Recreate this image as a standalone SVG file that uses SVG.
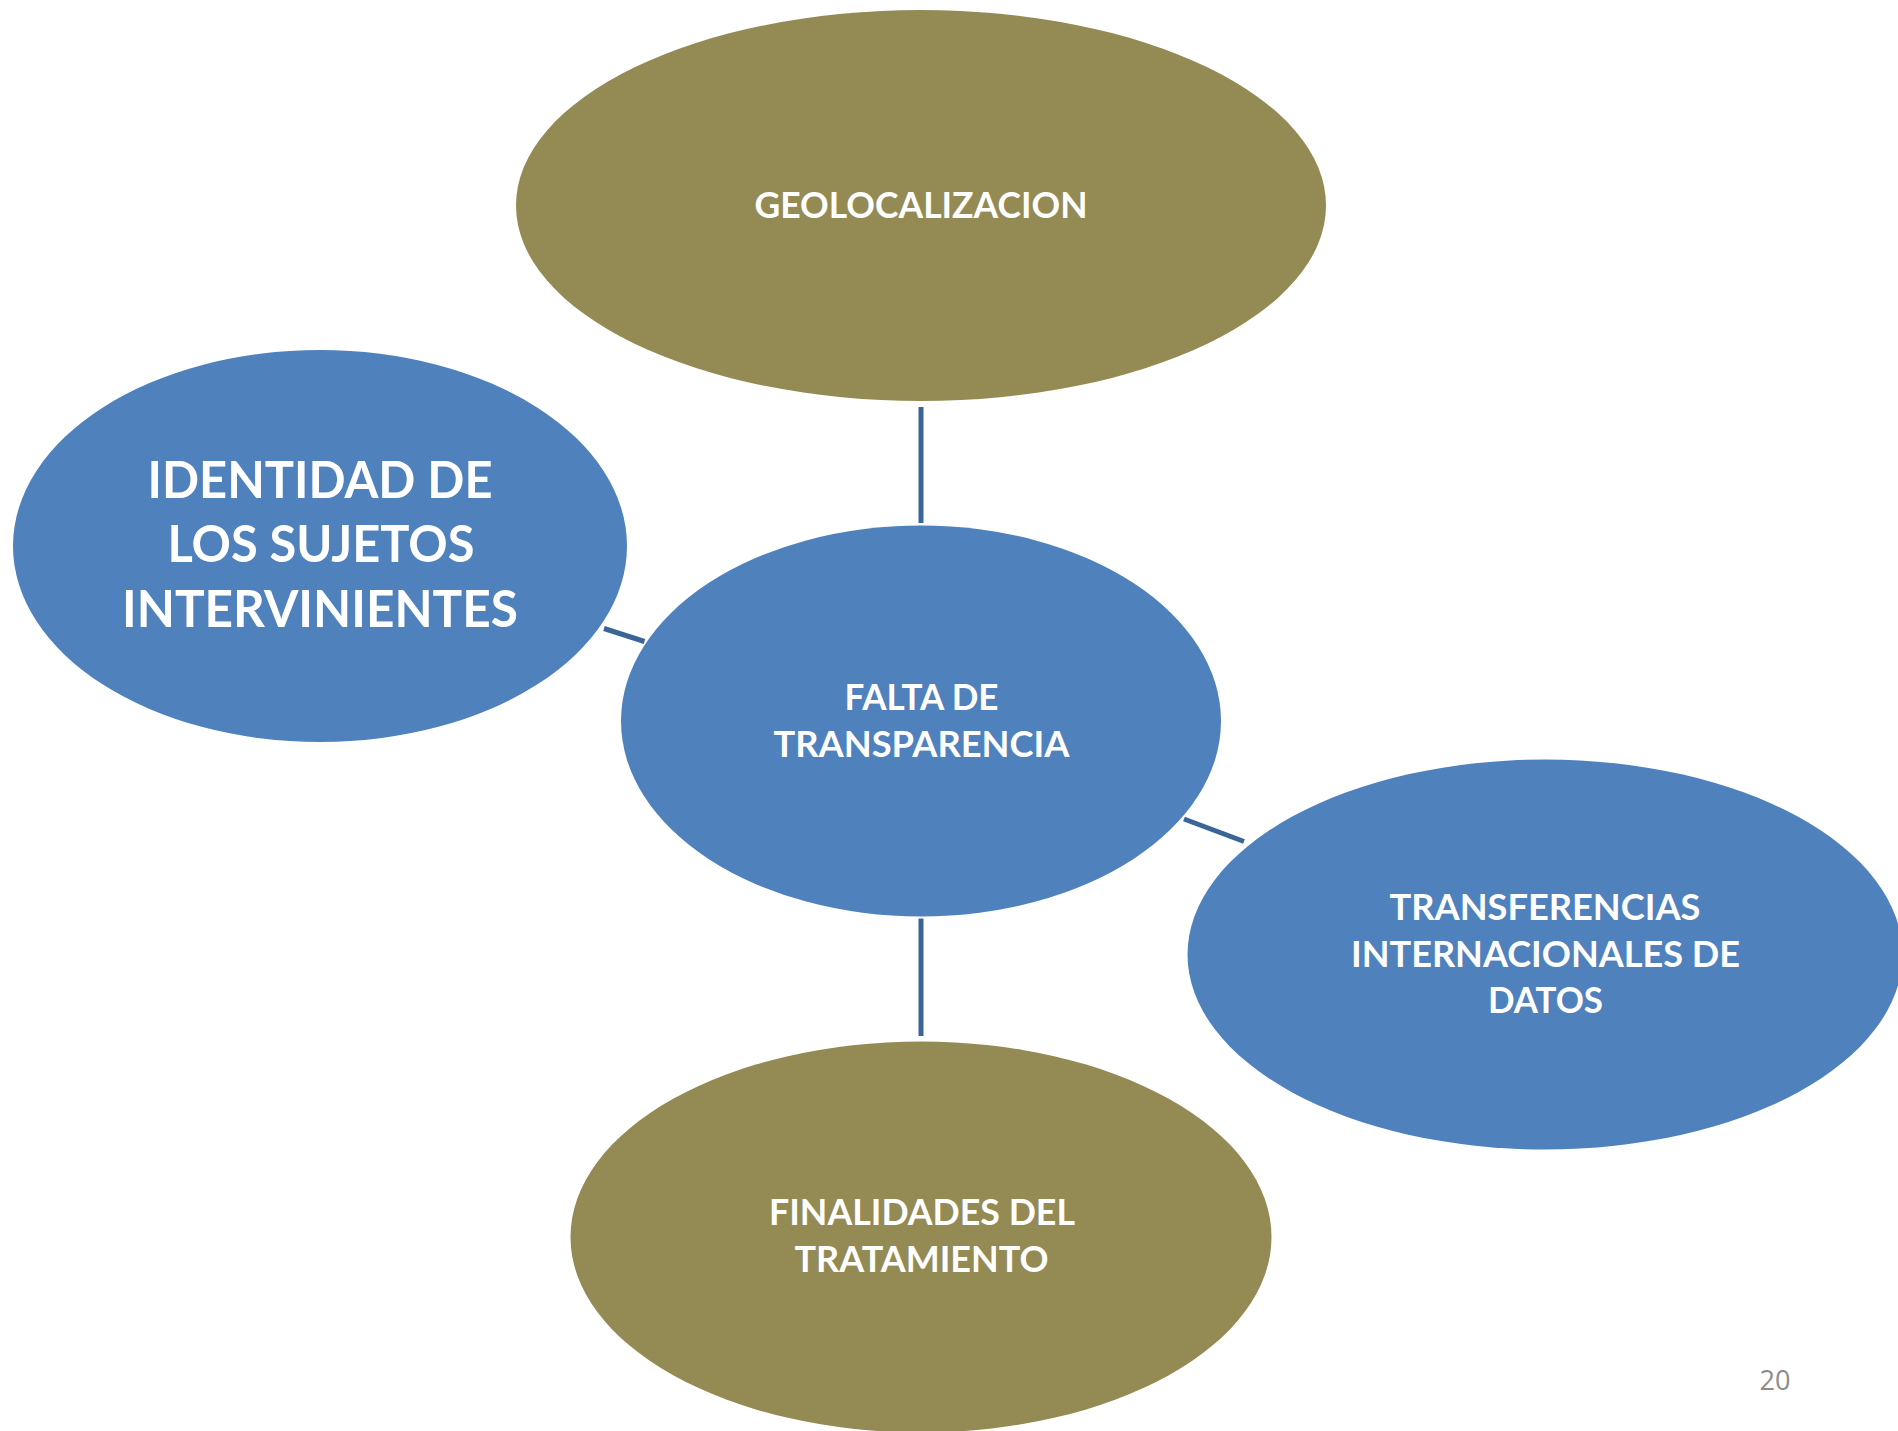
<svg xmlns="http://www.w3.org/2000/svg" width="1898" height="1431" viewBox="0 0 1898 1431">
<style>
.olive{fill:#948A54}
.blue{fill:#4F81BD}
.lbl{font-family:Lato,"Open Sans","Liberation Sans",sans-serif;font-weight:bold;fill:#FFFFFF;text-anchor:middle}
.s37{font-size:37px}
.s51{font-size:51px}
.conn{stroke:#3C6597;stroke-width:5;fill:none}
.pg{font-family:"Open Sans","Liberation Sans",sans-serif;font-size:27px;fill:#8C8C8C}
</style>
<rect width="1898" height="1431" fill="#FFFFFF"/>
<g id="connectors">
<line class="conn" x1="921" y1="407" x2="921" y2="523"/>
<line class="conn" x1="604" y1="628.5" x2="644.5" y2="641.5"/>
<line class="conn" x1="1184" y1="819" x2="1244" y2="841.5"/>
<line class="conn" x1="921" y1="918.5" x2="921" y2="1036"/>
</g>
<g id="geolocalizacion">
<ellipse class="olive" cx="921" cy="205.5" rx="405" ry="195.5"/>
<text class="lbl s37" x="921" y="218" textLength="333" lengthAdjust="spacingAndGlyphs">GEOLOCALIZACION</text>
</g>
<g id="identidad">
<ellipse class="blue" cx="320" cy="546" rx="307" ry="196"/>
<text class="lbl s51" x="320" y="498" textLength="345" lengthAdjust="spacingAndGlyphs">IDENTIDAD DE</text>
<text class="lbl s51" x="321" y="561.5" textLength="307" lengthAdjust="spacingAndGlyphs">LOS SUJETOS</text>
<text class="lbl s51" x="320" y="626.5" textLength="396" lengthAdjust="spacingAndGlyphs">INTERVINIENTES</text>
</g>
<g id="falta">
<ellipse class="blue" cx="921" cy="721" rx="300" ry="195.5"/>
<text class="lbl s37" x="921.5" y="709.5" textLength="154" lengthAdjust="spacingAndGlyphs">FALTA DE</text>
<text class="lbl s37" x="921.5" y="756.5" textLength="296" lengthAdjust="spacingAndGlyphs">TRANSPARENCIA</text>
</g>
<g id="transferencias">
<ellipse class="blue" cx="1545" cy="954.5" rx="357.5" ry="195"/>
<text class="lbl s37" x="1545" y="920" textLength="311" lengthAdjust="spacingAndGlyphs">TRANSFERENCIAS</text>
<text class="lbl s37" x="1545.5" y="966.5" textLength="389" lengthAdjust="spacingAndGlyphs">INTERNACIONALES DE</text>
<text class="lbl s37" x="1545.5" y="1013" textLength="115" lengthAdjust="spacingAndGlyphs">DATOS</text>
</g>
<g id="finalidades">
<ellipse class="olive" cx="921" cy="1237" rx="350.5" ry="195.5"/>
<text class="lbl s37" x="922" y="1225" textLength="306" lengthAdjust="spacingAndGlyphs">FINALIDADES DEL</text>
<text class="lbl s37" x="921.5" y="1272" textLength="254" lengthAdjust="spacingAndGlyphs">TRATAMIENTO</text>
</g>
<text class="pg" x="1775" y="1390" text-anchor="middle" textLength="31" lengthAdjust="spacingAndGlyphs">20</text>
</svg>
